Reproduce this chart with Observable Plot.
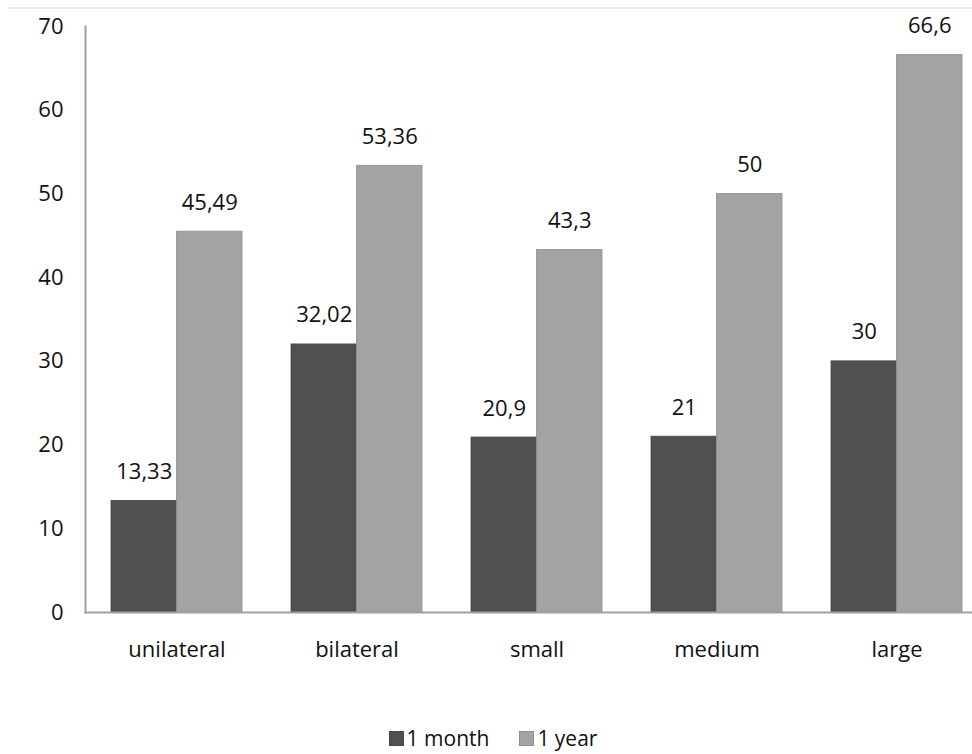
<!DOCTYPE html>
<html>
<head>
<meta charset="utf-8">
<script src="https://cdn.jsdelivr.net/npm/d3@7"></script>
<script src="https://cdn.jsdelivr.net/npm/@observablehq/plot@0.6"></script>
<style>
  html, body { margin: 0; padding: 0; background: #fff; overflow: hidden; }
  body { width: 972px; height: 754px; position: relative; font-family: "Open Sans", sans-serif; }
  #topline { position: absolute; top: 7px; left: 8px; right: 0; height: 2px; background: #ececec; }
  #legend { position: absolute; top: 724px; left: 0; width: 972px; display: flex; justify-content: center; align-items: center; gap: 30px; padding-left: 14px; box-sizing: border-box; font-size: 21px; line-height: 28px; color: #111; }
  #legend .item { display: flex; align-items: center; gap: 3px; }
  #legend .sw { width: 15px; height: 15px; display: inline-block; box-sizing: border-box; }
</style>
</head>
<body>
<div id="topline"></div>
<div id="chart"></div>
<div id="legend"></div>
<script>
const categories = ["unilateral", "bilateral", "small", "medium", "large"];
const series = ["1 month", "1 year"];
const month1 = [13.33, 32.02, 20.9, 21, 30];
const year1 = [45.49, 53.36, 43.3, 50, 66.6];
const labels1 = ["13,33", "32,02", "20,9", "21", "30"];
const labels2 = ["45,49", "53,36", "43,3", "50", "66,6"];
const yTicks = [0, 10, 20, 30, 40, 50, 60, 70];
const colors = ["#505050", "#a3a3a3"];
const strokes = ["#464646", "#8f8f8f"];

const d1 = categories.map((c, i) => ({cat: c, v: month1[i], label: labels1[i]}));
const d2 = categories.map((c, i) => ({cat: c, v: year1[i], label: labels2[i]}));

const width = 972, height = 690;
const marginLeft = 85, marginRight = -15, marginTop = 26, marginBottom = 78;
const pInner = 0.274, pOuter = 0.137;
const range = width - marginRight - marginLeft;
const step = range / (categories.length - pInner + 2 * pOuter);
const half = step * (1 - pInner) / 2;

const font = "Open Sans, sans-serif";
const fs = 22;

const chart = Plot.plot({
  width, height, marginLeft, marginRight, marginTop, marginBottom,
  style: {fontFamily: font, fontSize: fs + "px", color: "#111", overflow: "visible", background: "transparent"},
  x: {domain: categories, paddingInner: pInner, paddingOuter: pOuter, label: null},
  y: {domain: [0, 70], label: null},
  marks: [
    Plot.barY(d1, {x: "cat", y: "v", fill: colors[0], stroke: strokes[0], strokeWidth: 0.8, insetRight: half}),
    Plot.barY(d2, {x: "cat", y: "v", fill: colors[1], stroke: strokes[1], strokeWidth: 0.8, insetLeft: half}),
    Plot.text(d1, {x: "cat", y: "v", text: "label", dx: -half / 2, dy: -29, fontSize: fs, fill: "#111"}),
    Plot.text(d2, {x: "cat", y: "v", text: "label", dx: half / 2, dy: -29, fontSize: fs, fill: "#111"}),
    Plot.frame({anchor: "left", stroke: "#a0a0a0", strokeWidth: 2}),
    Plot.frame({anchor: "bottom", stroke: "#a0a0a0", strokeWidth: 2}),
    Plot.axisY({ticks: yTicks, tickSize: 0, tickPadding: 22, fontSize: fs, label: null}),
    Plot.axisX({tickSize: 0, tickPadding: 29, fontSize: fs, label: null})
  ]
});
document.getElementById("chart").appendChild(chart);

const legend = document.getElementById("legend");
series.forEach((s, i) => {
  const item = document.createElement("span");
  item.className = "item";
  const sw = document.createElement("span");
  sw.className = "sw";
  sw.style.background = colors[i];
  sw.style.border = "1px solid " + strokes[i];
  item.appendChild(sw);
  const t = document.createElement("span");
  t.textContent = s;
  item.appendChild(t);
  legend.appendChild(item);
});
</script>
</body>
</html>
